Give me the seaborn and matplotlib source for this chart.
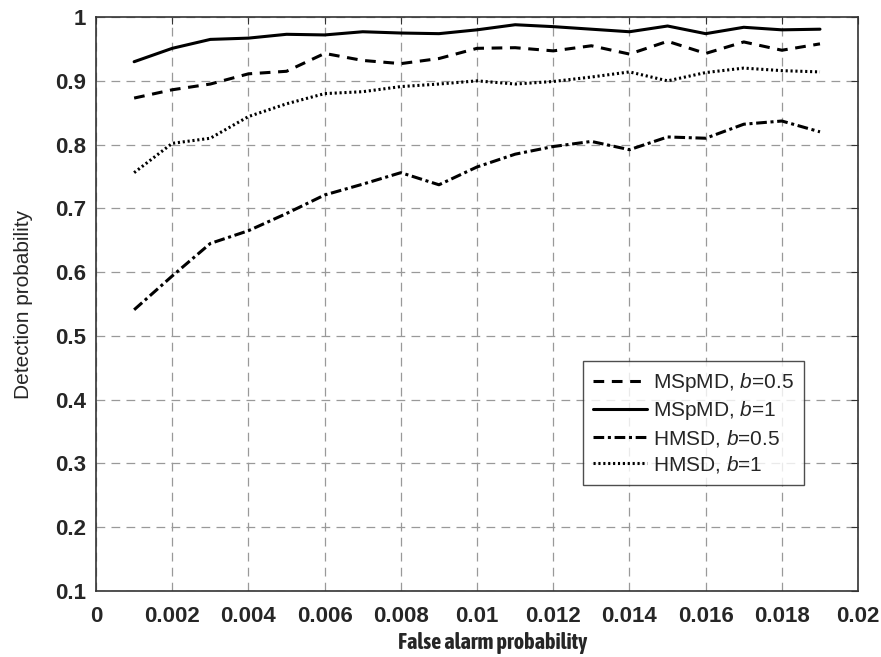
import matplotlib
matplotlib.use("Agg")
import matplotlib.pyplot as plt
import seaborn as sns
import pandas as pd
from matplotlib import font_manager

x_vals = [0.001, 0.002, 0.003, 0.004, 0.005, 0.006, 0.007, 0.008, 0.009, 0.010,
          0.011, 0.012, 0.013, 0.014, 0.015, 0.016, 0.017, 0.018, 0.019]
mspmd_b05 = [0.873, 0.886, 0.895, 0.911, 0.915, 0.943, 0.932, 0.927, 0.935, 0.951,
             0.952, 0.947, 0.955, 0.942, 0.962, 0.943, 0.961, 0.948, 0.958]
mspmd_b1 = [0.930, 0.951, 0.965, 0.967, 0.973, 0.972, 0.977, 0.975, 0.974, 0.980,
            0.988, 0.985, 0.981, 0.977, 0.986, 0.974, 0.984, 0.980, 0.981]
hmsd_b05 = [0.541, 0.594, 0.645, 0.665, 0.692, 0.721, 0.738, 0.756, 0.737, 0.765,
            0.785, 0.797, 0.805, 0.792, 0.812, 0.810, 0.832, 0.837, 0.820]
hmsd_b1 = [0.756, 0.802, 0.810, 0.844, 0.864, 0.880, 0.883, 0.891, 0.895, 0.900,
           0.895, 0.899, 0.906, 0.914, 0.900, 0.913, 0.920, 0.916, 0.914]
series_labels = ["MSpMD, $b$=0.5", "MSpMD, $b$=1", "HMSD, $b$=0.5", "HMSD, $b$=1"]
x_ticks = [0, 0.002, 0.004, 0.006, 0.008, 0.01, 0.012, 0.014, 0.016, 0.018, 0.02]
x_tick_labels = ["0", "0.002", "0.004", "0.006", "0.008", "0.01", "0.012", "0.014", "0.016", "0.018", "0.02"]
y_ticks = [0.1, 0.2, 0.3, 0.4, 0.5, 0.6, 0.7, 0.8, 0.9, 1.0]
y_tick_labels = ["0.1", "0.2", "0.3", "0.4", "0.5", "0.6", "0.7", "0.8", "0.9", "1"]

sns.set_style("white")
fonts = [(f.name, f.weight) for f in font_manager.fontManager.ttflist]
bold_narrow = None
for cand in ["Asap Condensed", "Barlow Condensed", "Barlow Semi Condensed",
             "Archivo Narrow", "Encode Sans Condensed"]:
    if any(n == cand and (w == "bold" or w == 700) for n, w in fonts):
        bold_narrow = cand
        break
plt.rcParams["font.family"] = ["Liberation Sans", "DejaVu Sans"]
plt.rcParams["mathtext.fontset"] = "custom"
plt.rcParams["mathtext.it"] = "Liberation Sans:italic"
plt.rcParams["mathtext.rm"] = "Liberation Sans"

fig = plt.figure(figsize=(8.81, 6.57), dpi=100)
ax = fig.add_axes([0.109, 0.1005, 0.865, 0.8735])

styles = [
    (mspmd_b05, (0, (3.5, 2.5))),
    (mspmd_b1, "-"),
    (hmsd_b05, (0, (3.5, 1.2, 1.0, 1.2))),
    (hmsd_b1, (0, (0.7, 0.9))),
]
for (vals, ls), lab in zip(styles, series_labels):
    df = pd.DataFrame({"x": x_vals, "y": vals})
    sns.lineplot(data=df, x="x", y="y", ax=ax, color="black", linewidth=2.2,
                 linestyle=ls, label=lab)

ax.set_xlim(0, 0.02)
ax.set_ylim(0.1, 1.0)
ax.set_xticks(x_ticks)
ax.set_xticklabels(x_tick_labels)
ax.set_yticks(y_ticks)
ax.set_yticklabels(y_tick_labels)
ax.grid(True, color="#999999", linestyle=(0, (7, 5)), linewidth=0.9)
for s in ax.spines.values():
    s.set_color("#333333")
    s.set_linewidth(1.2)
ax.tick_params(direction="in", length=5, top=True, right=True, color="#333333",
               labelsize=16)
ax.tick_params(axis="x", pad=11)
ax.tick_params(axis="y", pad=7)
for t in ax.get_xticklabels() + ax.get_yticklabels():
    t.set_fontweight("bold")

if bold_narrow:
    ax.set_xlabel("False alarm probability", fontsize=16, fontweight="bold",
                  fontfamily=bold_narrow)
else:
    ax.set_xlabel("False alarm probability", fontsize=12.5, fontweight="bold")
ax.xaxis.set_label_coords(0.52, -0.071)
ax.set_ylabel("Detection probability", fontsize=15, fontweight="normal")
ax.yaxis.set_label_coords(-0.083, 0.5)

leg = ax.legend(loc="upper right", bbox_to_anchor=(0.929, 0.401), fontsize=15,
                frameon=True, fancybox=False, edgecolor="#222222",
                handlelength=2.6, handletextpad=0.25, borderpad=0.5,
                labelspacing=0.25, borderaxespad=0)
leg.get_frame().set_linewidth(1.0)

fig.savefig("out.png", dpi=100)
